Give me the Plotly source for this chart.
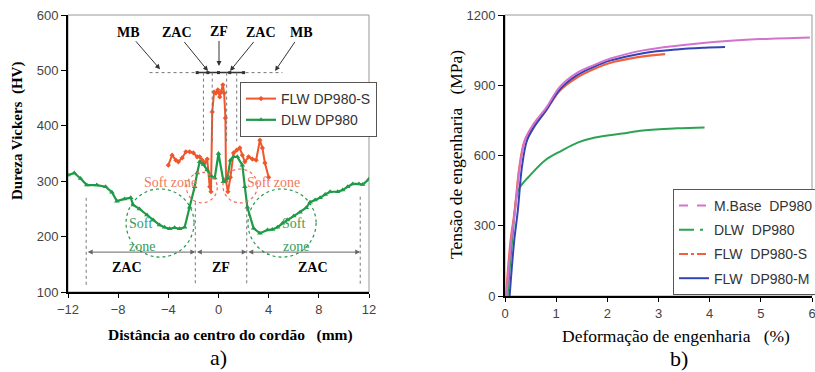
import plotly.graph_objects as go

W, H = 815, 372

# ---------------- data: (a) hardness profile ----------------
dlw_x = [-12.0, -11.5, -11.0, -10.5, -9.7, -9.0, -8.5, -8.1, -7.5, -7.0, -6.8, -6.3, -5.7, -5.2,
         -4.7, -4.3, -3.9, -3.5, -3.1, -2.7, -2.3, -1.9, -1.7, -1.5, -1.2, -0.9, -0.6, -0.3, 0.0,
         0.4, 0.7, 0.95, 1.2, 1.5, 1.9, 2.1, 2.3, 2.8, 3.3, 3.9, 4.3, 4.7, 5.1, 5.5, 6.0, 6.5, 7.0,
         7.3, 7.7, 8.1, 8.5, 8.9, 9.5, 9.9, 10.3, 10.7, 11.2, 11.5, 12.0]
dlw_y = [311, 315, 305, 293, 293, 290, 280, 264, 268, 270, 257, 250, 239, 230,
         221, 217, 214, 216, 214, 217, 253, 290, 315, 335, 330, 320, 310, 306, 350,
         299, 305, 338, 344, 344, 329, 290, 253, 215, 206, 212, 213, 217, 224, 230, 237, 244, 252,
         262, 266, 270, 276, 281, 281, 284, 290, 295, 295, 294, 304]

flw_x = [-4.0, -3.7, -3.4, -3.2, -2.9, -2.6, -2.3, -2.0, -1.7, -1.5, -1.3, -1.1, -0.9, -0.7,
         -0.6, -0.5, -0.35, -0.2, -0.05, 0.1, 0.2, 0.35, 0.45, 0.55, 0.6, 0.75, 0.95, 1.2, 1.45,
         1.7, 1.9, 2.1, 2.4, 2.7, 3.0, 3.3, 3.5, 3.7, 4.0]
flw_y = [329, 347, 338, 335, 342, 353, 353, 351, 344, 344, 338, 333, 340, 290,
         281, 425, 461, 459, 465, 452, 461, 474, 459, 414, 300, 281, 307, 351, 356,
         360, 347, 335, 344, 340, 338, 374, 360, 333, 307]

# ---------------- data: (b) stress-strain ----------------
mb_x = [0.03, 0.12, 0.2, 0.29, 0.4, 0.55, 0.8, 1.07, 1.4, 1.75, 2.05, 2.7, 3.36, 4.34, 4.98, 5.96]
mb_y = [0, 236, 370, 555, 672, 732, 802, 893, 952, 987, 1013, 1049, 1069, 1089, 1097, 1104]

dlw_s_x = [0.05, 0.15, 0.25, 0.35, 0.45, 0.78, 1.11, 1.43, 1.76, 2.29, 2.7, 3.36, 3.9]
dlw_s_y = [0, 260, 448, 482, 506, 579, 621, 656, 677, 694, 707, 716, 720]

flws_x = [0.02, 0.11, 0.19, 0.28, 0.38, 0.52, 0.78, 1.07, 1.4, 1.75, 2.05, 2.6, 3.13]
flws_y = [0, 236, 364, 549, 660, 715, 785, 877, 932, 970, 995, 1020, 1033]

flwm_x = [0.09, 0.18, 0.25, 0.33, 0.43, 0.57, 0.8, 1.07, 1.4, 1.75, 2.05, 2.7, 3.36, 3.9, 4.3]
flwm_y = [0, 236, 364, 549, 664, 722, 792, 882, 942, 980, 1005, 1037, 1053, 1060, 1063]

# tick labels
a_xticks = [-12, -8, -4, 0, 4, 8, 12]
a_yticks = [100, 200, 300, 400, 500, 600]
b_xticks = [0, 1, 2, 3, 4, 5, 6]
b_yticks = [0, 300, 600, 900, 1200]

ORANGE = "#f0562a"
GREEN = "#1f9a48"
PINK = "#d372cf"
GREEN2 = "#2ba352"
RED2 = "#f2603e"
BLUE = "#3344b4"
SERIF = "Liberation Serif, Times New Roman, serif"
SANS = "Liberation Sans, Arial, sans-serif"

fig = go.Figure()

# (a) traces
fig.add_trace(go.Scatter(x=flw_x, y=flw_y, mode="lines+markers", name="FLW DP980-S",
                         line=dict(color=ORANGE, width=2),
                         marker=dict(symbol="diamond", size=4, color=ORANGE),
                         xaxis="x", yaxis="y", legend="legend"))
fig.add_trace(go.Scatter(x=dlw_x, y=dlw_y, mode="lines+markers", name="DLW DP980",
                         line=dict(color=GREEN, width=2.2),
                         marker=dict(symbol="triangle-up", size=5, color=GREEN),
                         xaxis="x", yaxis="y", legend="legend"))

# (b) traces (curves)
fig.add_trace(go.Scatter(x=dlw_s_x, y=dlw_s_y, mode="lines", showlegend=False,
                         line=dict(color=GREEN2, width=2, shape="spline"), xaxis="x2", yaxis="y2"))
fig.add_trace(go.Scatter(x=flws_x, y=flws_y, mode="lines", showlegend=False,
                         line=dict(color=RED2, width=2.2, shape="spline"), xaxis="x2", yaxis="y2"))
fig.add_trace(go.Scatter(x=flwm_x, y=flwm_y, mode="lines", showlegend=False,
                         line=dict(color=BLUE, width=2, shape="spline"), xaxis="x2", yaxis="y2"))
fig.add_trace(go.Scatter(x=mb_x, y=mb_y, mode="lines", showlegend=False,
                         line=dict(color=PINK, width=2, shape="spline"), xaxis="x2", yaxis="y2"))

# (b) legend samples
for nm, col, dash in [("M.Base&nbsp; DP980", PINK, "dash"),
                      ("DLW&nbsp; DP980", GREEN2, "longdashdot"),
                      ("FLW&nbsp; DP980-S", RED2, "dashdot"),
                      ("FLW&nbsp; DP980-M", BLUE, "solid")]:
    fig.add_trace(go.Scatter(x=[None], y=[None], mode="lines", name=nm,
                             line=dict(color=col, width=2, dash=dash),
                             xaxis="x2", yaxis="y2", legend="legend2", legendgroup=nm))

tickfont = dict(family=SANS, size=13, color="#444")
common_ax = dict(showgrid=False, zeroline=False, showline=True, linecolor="black", linewidth=2,
                 ticks="outside", tickcolor="black", tickfont=tickfont, automargin=False,
                 ticklabeloverflow="allow")

fig.update_layout(
    width=W, height=H, margin=dict(l=0, r=0, t=0, b=0, autoexpand=False),
    paper_bgcolor="white", plot_bgcolor="white",
    xaxis=dict(domain=[68 / W, 369 / W], range=[-12, 12], tickvals=a_xticks, anchor="y", ticklen=4, **common_ax),
    yaxis=dict(domain=[1 - 292 / H, 1 - 15 / H], range=[100, 600], tickvals=a_yticks, anchor="x", ticklen=5, **common_ax),
    xaxis2=dict(domain=[505 / W, 812 / W], range=[0, 6], tickvals=b_xticks, anchor="y2", ticklen=4, **common_ax),
    yaxis2=dict(domain=[1 - 296 / H, 1 - 15 / H], range=[0, 1200], tickvals=b_yticks, anchor="x2", ticklen=5, **common_ax),
    legend=dict(x=240 / W, y=1 - 82 / H, xanchor="left", yanchor="top",
                bordercolor="#555", borderwidth=1, bgcolor="white",
                font=dict(family=SANS, size=14, color="#333"), itemwidth=30),
    legend2=dict(x=673 / W, y=1 - 189 / H, xanchor="left", yanchor="top",
                 bordercolor="#555", borderwidth=1, bgcolor="white", tracegroupgap=3,
                 traceorder="grouped",
                 font=dict(family=SANS, size=14, color="#333"), itemwidth=30),
    showlegend=True,
)

shapes = []
# grey frames
for xr, yr in [("x domain", "y domain"), ("x2 domain", "y2 domain")]:
    shapes.append(dict(type="rect", xref=xr, yref=yr, x0=0, x1=1, y0=0, y1=1,
                       line=dict(color="#999", width=1), layer="below"))

dot = dict(color="#777", width=1, dash="dot")
# top horizontal dotted line and solid segment
shapes.append(dict(type="line", xref="x", yref="y", x0=-5.5, x1=5.1, y0=496, y1=496, line=dot))
shapes.append(dict(type="line", xref="x", yref="y", x0=-1.7, x1=2.0, y0=496, y1=496,
                   line=dict(color="#333", width=1.5)))
# top vertical dotted lines
for xv in [-1.2, -0.5, 0.65, 1.45]:
    shapes.append(dict(type="line", xref="x", yref="y", x0=xv, x1=xv, y0=496, y1=372, line=dot))
# lower vertical dotted lines
for xv, yt in [(-10.55, 270), (-1.85, 262), (2.25, 262), (11.3, 272)]:
    shapes.append(dict(type="line", xref="x", yref="y", x0=xv, x1=xv, y0=yt, y1=112, line=dot))
# soft zone circles
for x0, x1, y0, y1, col in [(-7.37, -1.95, 163, 286, GREEN), (2.35, 7.78, 163, 286, GREEN),
                            (-2.55, -0.1, 261, 316, "#f06a5a"), (0.35, 3.1, 261, 322, "#f06a5a")]:
    shapes.append(dict(type="circle", xref="x", yref="y", x0=x0, x1=x1, y0=y0, y1=y1,
                       line=dict(color=col, width=1.2, dash="dot")))
fig.update_layout(shapes=shapes)

# markers on the solid segment
fig.add_trace(go.Scatter(x=[-1.7, -0.85, 0.0, 0.9, 2.0], y=[496] * 5, mode="markers",
                         marker=dict(symbol="square", size=3, color="#333"),
                         showlegend=False, xaxis="x", yaxis="y", hoverinfo="skip"))

ann = []
bold = dict(family=SERIF, size=14, color="black")
# labels with arrows
for txt, hx, hy, ax, ay in [("MB", -4.66, 502, -32, -37), ("ZAC", -0.84, 499, -31, -38),
                            ("ZF", 0.04, 508, 0, -34), ("ZAC", 0.92, 499, 31, -38),
                            ("MB", 4.51, 499, 26, -38)]:
    ann.append(dict(text="<b>%s</b>" % txt, x=hx, y=hy, xref="x", yref="y", ax=ax, ay=ay,
                    showarrow=True, arrowhead=2, arrowsize=1, arrowwidth=1, arrowcolor="#333",
                    font=bold))
# double arrows
for xa, xb in [(-10.55, -1.85), (-1.85, 2.25), (2.25, 11.3)]:
    ann.append(dict(text="", x=xb, y=172, ax=xa, ay=172, xref="x", yref="y", axref="x", ayref="y",
                    showarrow=True, arrowhead=2, startarrowhead=2, arrowside="end+start",
                    arrowsize=1, arrowwidth=1, arrowcolor="#666"))
for txt, xx in [("ZAC", -7.3), ("ZF", 0.2), ("ZAC", 7.55)]:
    ann.append(dict(text="<b>%s</b>" % txt, x=xx, y=145, xref="x", yref="y", showarrow=False,
                    font=bold, xanchor="center", yanchor="middle"))
soft_o = dict(family=SERIF, size=14, color="#f07a60")
soft_g = dict(family=SERIF, size=14, color="#3a9a5a")
for xx in [-3.8, 4.35]:
    ann.append(dict(text="Soft zone", x=xx, y=297, xref="x", yref="y", showarrow=False, font=soft_o,
                    xanchor="center", yanchor="middle"))
for xx, t, yy in [(-6.25, "Soft", 223), (-6.1, "zone", 183), (5.95, "Soft", 223), (6.15, "zone", 183)]:
    ann.append(dict(text=t, x=xx, y=yy, xref="x", yref="y", showarrow=False, font=soft_g,
                    xanchor="center", yanchor="middle"))

# axis titles and panel labels (pixel placement)
def px(xp, yp):
    return xp / W, 1 - yp / H

def paper_text(text, xp, yp, size, angle=0):
    x0_, y0_ = px(xp, yp)
    ann.append(dict(text=text, x=x0_, y=y0_, xref="paper", yref="paper", textangle=angle,
                    showarrow=False, xanchor="center", yanchor="middle",
                    font=dict(family=SERIF, size=size, color="black")))

paper_text("<b>Dureza Vickers&nbsp; (HV)</b>", 17, 131, 15, -90)
paper_text("<b>Distância ao centro do cordão&nbsp;&nbsp; (mm)</b>", 231, 335, 15.5)
paper_text("a)", 218, 357, 22)
paper_text("Tensão de engenharia&nbsp;&nbsp; (MPa)", 456, 155, 17.5, -90)
paper_text("Deformação de engenharia&nbsp;&nbsp; (%)", 676, 336, 17.5)
paper_text("b)", 679, 358, 22)

fig.update_layout(annotations=ann)
fig.write_html("out.html")
